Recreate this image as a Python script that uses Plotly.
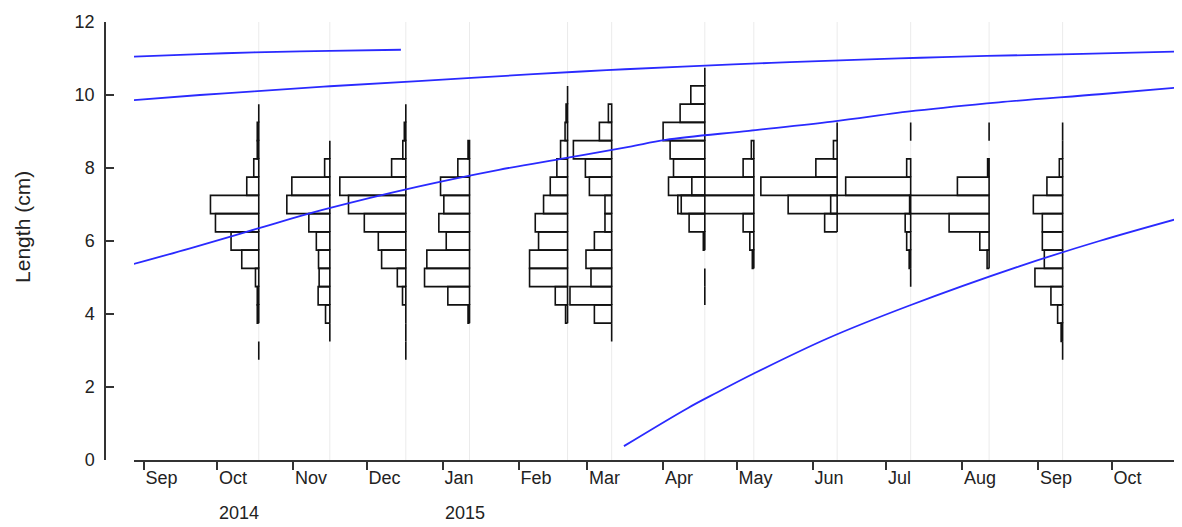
import pandas as pd
import plotly.graph_objects as go

# sampling dates of the length-frequency samples
sample_dates = ["2014-10-18", "2014-11-16", "2014-12-17", "2015-01-12",
                "2015-02-21", "2015-03-11", "2015-04-18", "2015-05-08",
                "2015-06-11", "2015-07-11", "2015-08-12", "2015-09-11"]

# length classes (mid points, cm), bin width 0.5 cm
bin_mids = [3.0, 3.5, 4.0, 4.5, 5.0, 5.5, 6.0, 6.5, 7.0, 7.5, 8.0, 8.5, 9.0, 9.5, 10.0, 10.5]

# relative frequencies per sample, ordered like bin_mids (None = class not shown)
freq_oct14 = [0, None, 1.5, 1.5, 3.3, 17, 27.7, 43.3, 48.3, 12, 5, 1.5, 1.5, 0, None, None]
freq_nov14 = [None, 0, 4.3, 11.7, 10.7, 11.3, 13.5, 21, 43, 38, 5.2, 0, None, None, None, None]
freq_dec14 = [0, 0, 0, 3.3, 8.5, 24.2, 27.5, 41.5, 57.3, 66, 14.2, 3, 1.5, 0, None, None]
freq_jan15 = [None, None, 1.5, 21.7, 45, 42.7, 23.3, 30.7, 25.7, 29, 11.7, 1.5, None, None, None, None]
freq_feb15 = [None, None, 2, 12.3, 38, 38, 29, 32.3, 24, 17.3, 10.7, 7, 2.5, 1.5, 0, None]
freq_mar15 = [None, 0, 17.3, 41.7, 20.7, 25.7, 17.3, 6.7, 6.7, 22.3, 26.3, 38.3, 12.3, 3.3, None, None]
freq_apr15 = [None, None, None, 0, 0, None, 1.5, 15.7, 27, 36.3, 31.3, 34.7, 41.7, 24.7, 14, 0]
freq_may15 = [None, None, None, None, None, 1.5, 4, 10.7, 72.6, 62, 10.7, 2.5, None, None, None, None]
freq_jun15 = [None, None, None, None, None, None, None, 12.5, 49, 76.3, 21.3, 3.7, 0, None, None, None]
freq_jul15 = [None, None, None, None, 0, 1.5, 4, 5.5, 80, 65, 4, None, 0, None, None, None]
freq_aug15 = [None, None, None, None, None, 2, 9.3, 40, 79.5, 31.7, 1.5, None, 0, None, None, None]
freq_sep15 = [0, 1.5, 5, 11.7, 27.7, 18.3, 20.3, 20.3, 29.3, 15.7, 3.3, 0, 0, None, None, None]

sample_freqs = [freq_oct14, freq_nov14, freq_dec14, freq_jan15, freq_feb15, freq_mar15,
                freq_apr15, freq_may15, freq_jun15, freq_jul15, freq_aug15, freq_sep15]

# growth curves (cohorts)
cohort_a_dates = ["2014-08-28", "2014-09-24", "2014-10-16", "2014-11-16", "2014-12-15"]
cohort_a_len = [11.05, 11.12, 11.17, 11.21, 11.24]

cohort_b_dates = ["2014-08-28", "2014-09-24", "2014-10-16", "2014-11-16", "2014-12-22",
                  "2015-02-07", "2015-03-09", "2015-04-09", "2015-05-15", "2015-06-18",
                  "2015-07-15", "2015-08-11", "2015-09-15", "2015-10-29"]
cohort_b_len = [9.86, 10.00, 10.10, 10.24, 10.38, 10.57, 10.68, 10.78, 10.88, 10.96,
                11.02, 11.07, 11.12, 11.19]

cohort_c_dates = ["2014-08-28", "2014-09-20", "2014-10-17", "2014-11-13", "2014-12-22",
                  "2015-01-24", "2015-02-20", "2015-03-18", "2015-04-02", "2015-05-06",
                  "2015-06-09", "2015-07-13", "2015-08-16", "2015-09-26", "2015-10-29"]
cohort_c_len = [5.37, 5.80, 6.33, 6.85, 7.49, 7.95, 8.27, 8.58, 8.77, 9.02,
                9.27, 9.57, 9.80, 10.02, 10.21]

cohort_d_dates = ["2015-03-16", "2015-04-11", "2015-04-23", "2015-05-08", "2015-06-07",
                  "2015-07-10", "2015-08-24", "2015-09-26", "2015-10-29"]
cohort_d_len = [0.38, 1.42, 1.85, 2.37, 3.33, 4.22, 5.30, 6.00, 6.63]

DAYS_PER_UNIT = 0.408   # horizontal bar scale (days per frequency unit)
HALF_BIN = 0.25

fig = go.Figure()

# light vertical lines at sampling dates
for d in sample_dates:
    fig.add_shape(type="line", xref="x", yref="y", x0=d, x1=d, y0=0, y1=12,
                  line=dict(color="#ebebeb", width=1), layer="below")

# horizontal histograms hanging left of each sampling date
for d, freqs in zip(sample_dates, sample_freqs):
    base = pd.Timestamp(d)
    xs, ys = [], []
    for mid, f in zip(bin_mids, freqs):
        if f is None:
            continue
        left = base - pd.Timedelta(days=f * DAYS_PER_UNIT)
        lo, hi = mid - HALF_BIN, mid + HALF_BIN
        xs += [base, left, left, base, base, None]
        ys += [lo, lo, hi, hi, lo, None]
    fig.add_trace(go.Scatter(x=xs, y=ys, mode="lines",
                             line=dict(color="#111111", width=1.6),
                             hoverinfo="skip", showlegend=False))

# growth curves
for cx, cy in [(cohort_a_dates, cohort_a_len), (cohort_b_dates, cohort_b_len),
               (cohort_c_dates, cohort_c_len), (cohort_d_dates, cohort_d_len)]:
    fig.add_trace(go.Scatter(x=cx, y=cy, mode="lines",
                             line=dict(color="#2a2aff", width=1.8, shape="spline"),
                             showlegend=False))

tick_font = dict(family="Liberation Sans, Arial, sans-serif", size=18, color="#222222")

# page body adds 8px offset, so the figure is 8px smaller than the window
fig.update_layout(
    width=1174, height=519,
    margin=dict(l=97, r=0, t=14, b=67),
    plot_bgcolor="white", paper_bgcolor="white",
    showlegend=False,
    xaxis=dict(
        type="date",
        domain=[0.0269, 1],
        range=["2014-08-28 02:00", "2015-10-29 17:00"],
        showline=True, linecolor="#333333", linewidth=2.2,
        ticks="outside", ticklen=8, tickwidth=1.5, tickcolor="#333333",
        tick0="2014-09-01", dtick="M1", tickformat="%b",
        ticklabelposition="outside right",
        tickfont=tick_font,
        showgrid=False, zeroline=False,
    ),
    yaxis=dict(
        range=[0, 12],
        anchor="free", position=0,
        showline=True, linecolor="#333333", linewidth=1.5,
        ticks="inside", ticklen=8, tickwidth=1.5, tickcolor="#333333",
        tickvals=[0, 2, 4, 6, 8, 10, 12],
        ticklabelstandoff=6,
        tickfont=tick_font,
        showgrid=False, zeroline=False,
    ),
)

# y axis title
fig.add_annotation(text="Length (cm)", xref="paper", yref="y", x=-0.076, y=6.39,
                   textangle=-90, showarrow=False, xanchor="center", yanchor="middle",
                   font=dict(family="Liberation Sans, Arial, sans-serif", size=21, color="#222222"))

# year labels under the month ticks
for year_date, year_text in [("2014-10-01", "2014"), ("2015-01-01", "2015")]:
    fig.add_annotation(text=year_text, xref="x", yref="paper", x=year_date, y=-0.122,
                       showarrow=False, xanchor="left", yanchor="middle", font=tick_font)

fig.write_html("out.html")
